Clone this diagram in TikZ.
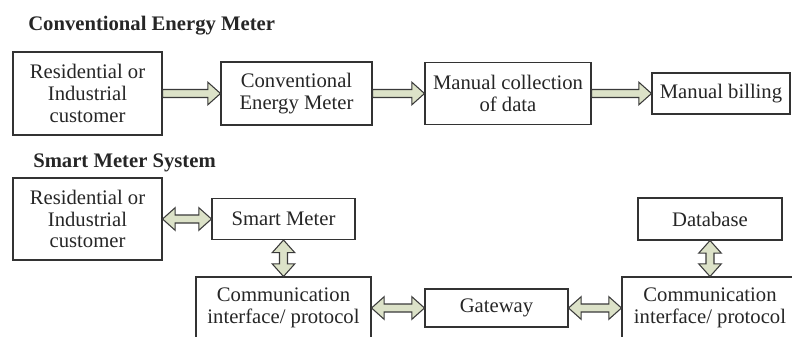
\documentclass[tikz,border=0pt]{standalone}
\usepackage{xcolor}
\usepackage{fontspec}
\setmainfont{Liberation Serif}
\usepackage{tikz}
\usetikzlibrary{calc}
\definecolor{arrowfill}{HTML}{DCE2C8}
\definecolor{arrowline}{HTML}{3A3A3A}
\definecolor{boxline}{HTML}{333333}
\definecolor{ink}{HTML}{262626}

\tikzset{
  blk/.style={draw=boxline, line width=0.8pt, fill=white, text=ink, align=center,
    inner sep=0pt, font=\fontsize{15.5pt}{16.4pt}\selectfont},
  heading/.style={anchor=base west, inner sep=0pt, text=ink,
    font=\fontsize{15.5pt}{16.4pt}\selectfont\bfseries},
  fatarrow/.style={draw=arrowline, fill=arrowfill, line width=0.8pt, line join=miter,
    to path={let \p1=(\tikztostart), \p2=(\tikztotarget),
      \n1={atan2(\y2-\y1,\x2-\x1)}, \n2={veclen(\x2-\x1,\y2-\y1)}, \n3={\n2-9.5pt} in
      ($(\p1)+(\n1+90:3pt)$) -- ($(\p1)+(\n1:\n3)+(\n1+90:3pt)$)
      -- ($(\p1)+(\n1:\n3)+(\n1+90:8.5pt)$) -- (\p2)
      -- ($(\p1)+(\n1:\n3)+(\n1-90:8.5pt)$) -- ($(\p1)+(\n1:\n3)+(\n1-90:3pt)$)
      -- ($(\p1)+(\n1-90:3pt)$) -- cycle}},
  fatboth/.style={draw=arrowline, fill=arrowfill, line width=0.8pt, line join=miter,
    to path={let \p1=(\tikztostart), \p2=(\tikztotarget),
      \n1={atan2(\y2-\y1,\x2-\x1)}, \n2={veclen(\x2-\x1,\y2-\y1)}, \n3={\n2-9.5pt} in
      (\p1) -- ($(\p1)+(\n1:9.5pt)+(\n1+90:8.5pt)$) -- ($(\p1)+(\n1:9.5pt)+(\n1+90:3pt)$)
      -- ($(\p1)+(\n1:\n3)+(\n1+90:3pt)$) -- ($(\p1)+(\n1:\n3)+(\n1+90:8.5pt)$)
      -- (\p2)
      -- ($(\p1)+(\n1:\n3)+(\n1-90:8.5pt)$) -- ($(\p1)+(\n1:\n3)+(\n1-90:3pt)$)
      -- ($(\p1)+(\n1:9.5pt)+(\n1-90:3pt)$) -- ($(\p1)+(\n1:9.5pt)+(\n1-90:8.5pt)$)
      -- cycle}}
}

\begin{document}
\begin{tikzpicture}[x=0.75pt, y=-0.75pt]
\useasboundingbox (0,0) rectangle (792,336);
\clip (0,0) rectangle (792,336);

% Conventional meter chain
\node[heading] (convtitle) at (28,30) {Conventional Energy Meter};

\node[blk, minimum width=111.75pt, minimum height=62.25pt] (cust1) at (87.5,93.5) {Residential or\\Industrial\\customer};
\node[blk, minimum width=113.25pt, minimum height=47.25pt] (cem) at (296.5,93.5) {Conventional\\Energy Meter};
\node[blk, minimum width=124.5pt, minimum height=46.5pt] (mcol) at (508,93.5) {Manual collection\\of data};
\node[blk, minimum width=103.5pt, minimum height=30.75pt] (bill) at (721,93.5) {Manual billing};

\draw[fatarrow] (cust1.east) to (cem.west);
\draw[fatarrow] (cem.east) to (mcol.west);
\draw[fatarrow] (mcol.east) to (bill.west);

% Smart meter system
\node[heading] (smarttitle) at (33,167) {Smart Meter System};

\node[blk, minimum width=111.75pt, minimum height=61.5pt] (cust2) at (87.5,219) {Residential or\\Industrial\\customer};
\node[blk, minimum width=107.25pt, minimum height=30.75pt] (smart) at (283.5,219) {Smart Meter};
\node[blk, minimum width=131.25pt, minimum height=46.5pt] (comm1) at (283.5,308) {Communication\\interface/ protocol};
\node[blk, minimum width=107.25pt, minimum height=28.5pt] (gate) at (496.5,308) {Gateway};
\node[blk, minimum width=132pt, minimum height=46.5pt] (comm2) at (710,308) {Communication\\interface/ protocol};
\node[blk, minimum width=108pt, minimum height=31.5pt] (dbase) at (710,219) {Database};

\draw[fatboth] (cust2.east) to (smart.west);
\draw[fatboth] (smart.south) to (comm1.north);
\draw[fatboth] (comm1.east) to (gate.west);
\draw[fatboth] (gate.east) to (comm2.west);
\draw[fatboth] (dbase.south) to (comm2.north);
\end{tikzpicture}
\end{document}
